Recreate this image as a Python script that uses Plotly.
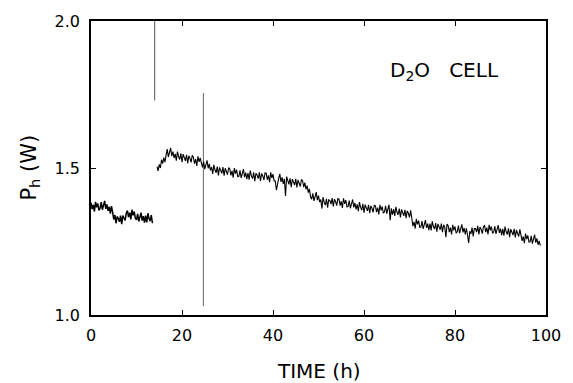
import plotly.graph_objects as go

# ---- data ----
# segment 1: sampled every 0.25 h starting at t = 0
seg1_start, seg1_step = 0.0, 0.25
seg1_p = [1.382, 1.360, 1.375, 1.352, 1.385, 1.366, 1.379, 1.356,
          1.364, 1.384, 1.358, 1.373, 1.388, 1.361, 1.376, 1.354,
          1.368, 1.345, 1.370, 1.350, 1.325, 1.340, 1.312, 1.335,
          1.329, 1.317, 1.338, 1.309, 1.338, 1.330, 1.322, 1.346,
          1.355, 1.333, 1.348, 1.325, 1.358, 1.339, 1.352, 1.329,
          1.324, 1.344, 1.318, 1.333, 1.348, 1.321, 1.336, 1.314,
          1.338, 1.315, 1.346, 1.328, 1.319, 1.340, 1.312]

# segment 2: sampled every 0.25 h starting at t = 14.5
seg2_start, seg2_step = 14.5, 0.25
seg2_p = [1.505, 1.490, 1.512, 1.500, 1.528, 1.515, 1.535, 1.520,
          1.544, 1.564, 1.538, 1.553, 1.568, 1.541, 1.556, 1.534,
          1.548, 1.525, 1.556, 1.538, 1.529, 1.550, 1.520, 1.547,
          1.536, 1.524, 1.545, 1.516, 1.541, 1.533, 1.519, 1.543,
          1.537, 1.515, 1.530, 1.507, 1.540, 1.521, 1.534, 1.511,
          1.502, 1.522, 1.496, 1.511, 1.526, 1.499, 1.514, 1.492,
          1.503, 1.480, 1.511, 1.493, 1.484, 1.505, 1.475, 1.502,
          1.494, 1.482, 1.503, 1.474, 1.499, 1.491, 1.477, 1.501,
          1.497, 1.475, 1.490, 1.467, 1.500, 1.481, 1.494, 1.471,
          1.472, 1.492, 1.466, 1.481, 1.496, 1.469, 1.484, 1.462,
          1.483, 1.460, 1.491, 1.473, 1.464, 1.485, 1.455, 1.482,
          1.476, 1.464, 1.485, 1.456, 1.481, 1.473, 1.459, 1.483,
          1.482, 1.460, 1.475, 1.452, 1.485, 1.466, 1.479, 1.456,
          1.456, 1.425, 1.450, 1.465, 1.480, 1.453, 1.468, 1.446,
          1.463, 1.405, 1.471, 1.453, 1.444, 1.465, 1.435, 1.462,
          1.454, 1.442, 1.463, 1.434, 1.459, 1.451, 1.437, 1.461,
          1.457, 1.435, 1.450, 1.427, 1.440, 1.416, 1.429, 1.402,
          1.394, 1.414, 1.388, 1.403, 1.418, 1.391, 1.406, 1.384,
          1.393, 1.362, 1.401, 1.383, 1.374, 1.395, 1.365, 1.392,
          1.389, 1.377, 1.398, 1.369, 1.394, 1.386, 1.372, 1.396,
          1.394, 1.372, 1.387, 1.364, 1.397, 1.378, 1.391, 1.368,
          1.369, 1.389, 1.363, 1.378, 1.393, 1.366, 1.381, 1.359,
          1.376, 1.353, 1.384, 1.366, 1.357, 1.378, 1.348, 1.375,
          1.366, 1.354, 1.375, 1.346, 1.371, 1.363, 1.349, 1.373,
          1.372, 1.350, 1.365, 1.342, 1.375, 1.356, 1.369, 1.346,
          1.351, 1.371, 1.345, 1.360, 1.375, 1.322, 1.363, 1.341,
          1.360, 1.337, 1.368, 1.350, 1.341, 1.362, 1.332, 1.359,
          1.349, 1.337, 1.358, 1.329, 1.354, 1.346, 1.332, 1.356,
          1.330, 1.302, 1.317, 1.294, 1.327, 1.308, 1.321, 1.298,
          1.299, 1.319, 1.293, 1.308, 1.323, 1.296, 1.311, 1.289,
          1.311, 1.288, 1.319, 1.301, 1.292, 1.313, 1.283, 1.310,
          1.302, 1.290, 1.311, 1.282, 1.307, 1.299, 1.265, 1.309,
          1.304, 1.282, 1.297, 1.274, 1.307, 1.288, 1.301, 1.278,
          1.284, 1.304, 1.278, 1.293, 1.308, 1.281, 1.296, 1.274,
          1.295, 1.272, 1.245, 1.285, 1.276, 1.297, 1.267, 1.294,
          1.294, 1.282, 1.303, 1.274, 1.299, 1.291, 1.277, 1.301,
          1.304, 1.282, 1.297, 1.274, 1.307, 1.288, 1.301, 1.278,
          1.282, 1.302, 1.276, 1.291, 1.306, 1.279, 1.294, 1.272,
          1.293, 1.270, 1.301, 1.283, 1.274, 1.295, 1.265, 1.292,
          1.284, 1.272, 1.293, 1.264, 1.289, 1.281, 1.267, 1.291,
          1.274, 1.252, 1.267, 1.244, 1.277, 1.258, 1.271, 1.248,
          1.249, 1.269, 1.243, 1.258, 1.273, 1.246, 1.261, 1.239,
          1.252, 1.236]

# transient spikes
spike1_t = [14.0, 14.0]
spike1_p = [2.0, 1.73]
spike2_t = [24.7, 24.7]
spike2_p = [1.755, 1.03]

x_ticks = [0, 20, 40, 60, 80, 100]
y_ticks = [1.0, 1.5, 2.0]
y_tick_labels = ["1.0", "1.5", "2.0"]

seg1_t = [seg1_start + seg1_step * i for i in range(len(seg1_p))]
seg2_t = [seg2_start + seg2_step * i for i in range(len(seg2_p))]

fig = go.Figure()
fig.add_trace(go.Scatter(x=spike1_t, y=spike1_p, mode="lines",
                         line=dict(color="#555555", width=1), showlegend=False))
fig.add_trace(go.Scatter(x=spike2_t, y=spike2_p, mode="lines",
                         line=dict(color="#666666", width=1), showlegend=False))
fig.add_trace(go.Scatter(x=seg1_t, y=seg1_p, mode="lines",
                         line=dict(color="black", width=1.5), showlegend=False))
fig.add_trace(go.Scatter(x=seg2_t, y=seg2_p, mode="lines",
                         line=dict(color="black", width=1.1), showlegend=False))

font_family = "DejaVu Sans, Liberation Sans, Arial, sans-serif"

axis_common = dict(showline=True, linecolor="black", linewidth=1.5, mirror="ticks",
                   ticks="inside", ticklen=5, tickcolor="black", tickwidth=1.2,
                   showgrid=False, zeroline=False,
                   tickfont=dict(family=font_family, size=16, color="black"))

fig.update_xaxes(range=[0, 100], tickvals=x_ticks, ticklabelstandoff=5, **axis_common)
fig.update_yaxes(range=[1.0, 2.0], tickvals=y_ticks, ticktext=y_tick_labels,
                 ticklabelstandoff=6, **axis_common)

fig.update_layout(
    width=573, height=383,
    margin=dict(l=91, r=17, t=20, b=68),
    paper_bgcolor="white", plot_bgcolor="white",
    font=dict(family=font_family, color="black"),
    annotations=[
        dict(text="TIME (h)", xref="paper", yref="paper", x=0.5, y=-0.19,
             xanchor="center", yanchor="middle", showarrow=False,
             font=dict(size=20, family=font_family, color="black")),
        dict(text="P<sub>h</sub> (W)", xref="paper", yref="paper", x=-0.135, y=0.5,
             xanchor="center", yanchor="middle", textangle=-90, showarrow=False,
             font=dict(size=21, family=font_family, color="black")),
        dict(text="D<sub>2</sub>O   CELL", xref="paper", yref="paper", x=0.652, y=0.83,
             xanchor="left", yanchor="middle", showarrow=False,
             font=dict(size=20, family=font_family, color="black")),
    ],
)

# remove the browser's default 8 px body margin so the figure sits at the page corner
fig.write_html("out.html", config={"displayModeBar": False},
               post_script="document.body.style.margin='0';")
